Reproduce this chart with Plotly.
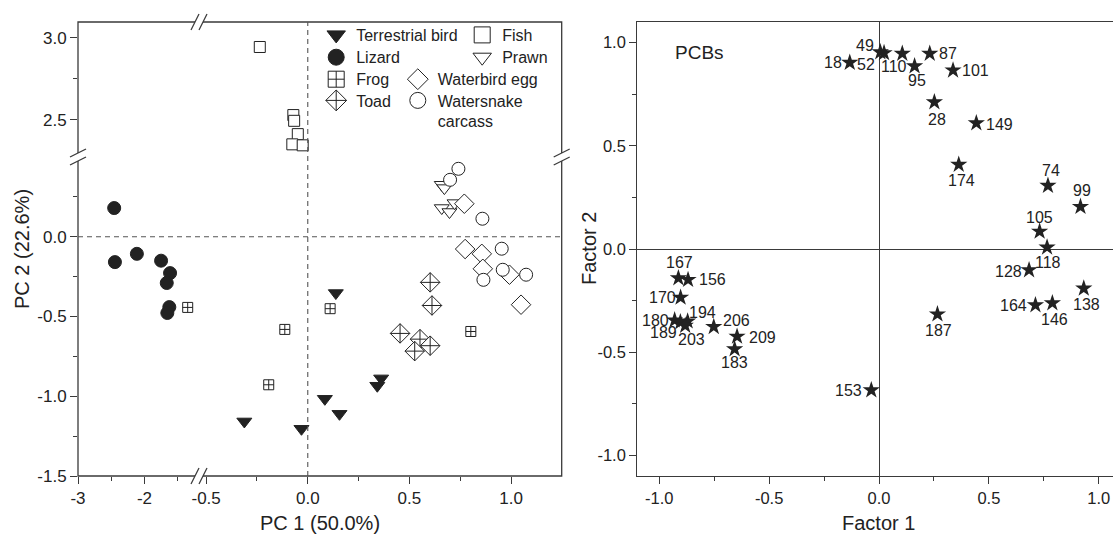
import plotly.graph_objects as go

# ---------------- Left panel: PCA scores ----------------
bird_x = [-0.312, -0.031, 0.138, 0.084, 0.156, 0.361, 0.342]
bird_y = [-1.158, -1.204, -0.353, -1.016, -1.110, -0.888, -0.934]
lizard_x = [-2.456, -2.445, -2.115, -1.751, -1.616, -1.666, -1.627, -1.657]
lizard_y = [0.180, -0.159, -0.107, -0.150, -0.228, -0.290, -0.441, -0.478]
frog_x = [-1.351, -0.113, -0.192, 0.110, 0.802]
frog_y = [-0.443, -0.581, -0.928, -0.451, -0.594]
toad_x = [0.602, 0.611, 0.454, 0.552, 0.602, 0.526]
toad_y = [-0.286, -0.431, -0.606, -0.642, -0.683, -0.717]
fish_x = [-0.236, -0.071, -0.067, -0.049, -0.076, -0.025]
fish_y = [2.943, 2.529, 2.494, 2.413, 2.351, 2.345]
prawn_x = [0.659, 0.672, 0.659, 0.697, 0.722]
prawn_y = [0.326, 0.305, 0.180, 0.155, 0.211]
egg_x = [0.770, 0.774, 0.856, 0.861, 0.992, 1.049]
egg_y = [0.207, -0.077, -0.107, -0.201, -0.238, -0.426]
snake_x = [0.741, 0.700, 0.859, 0.954, 0.864, 0.959, 1.074]
snake_y = [0.426, 0.357, 0.113, -0.075, -0.270, -0.207, -0.238]

# ---------------- Right panel: factor loadings ----------------
pcb_labels = ['18', '49', '52', '110', '95', '87', '101', '28', '149', '174',
              '74', '99', '105', '118', '128', '164', '146', '138', '187', '153',
              '167', '156', '170', '180', '189', '194', '203', '206', '209', '183']
factor1 = [-0.133, 0.006, 0.023, 0.106, 0.162, 0.231, 0.337, 0.252, 0.443, 0.363,
           0.769, 0.917, 0.731, 0.765, 0.683, 0.712, 0.789, 0.932, 0.266, -0.035,
           -0.913, -0.869, -0.903, -0.930, -0.904, -0.871, -0.882, -0.752, -0.646, -0.657]
factor2 = [0.903, 0.954, 0.950, 0.947, 0.886, 0.947, 0.866, 0.712, 0.610, 0.409,
           0.307, 0.205, 0.085, 0.008, -0.102, -0.272, -0.262, -0.191, -0.316, -0.684,
           -0.141, -0.149, -0.235, -0.345, -0.354, -0.350, -0.371, -0.377, -0.424, -0.485]

# label offsets from each star, in pixels (dx right, dy down) -- styling only
label_offsets = [(-17, 0), (-15, -7), (-18, 12), (-8, 13), (2, 14), (18, 0), (22, 0),
                 (3, 17), (23, 1), (3, 16), (3, -15), (2, -16), (0, -14), (1, 15),
                 (-21, 1), (-22, 0), (2, 16), (3, 16), (1, 16), (-23, 0), (1, -16),
                 (24, 0), (-18, 0), (-19, 0), (-17, 10), (15, -9), (6, 14), (23, -6),
                 (25, 1), (0, 13)]

# ---------------- Layout constants ----------------
W, H = 1113, 536
ML, MR, MT, MB = 78, 0, 22, 60
PW, PH = W - ML - MR, H - MT - MB

def px2x(p):
    return (p - ML) / PW

def px2y(p):
    return (H - MB - p) / PH

X_BREAK_PX, LEFT_RIGHT_PX, R_LEFT_PX = 199, 561.7, 637.3
Y_BREAK_PX = 157
X_BREAK = -1.181          # left segment upper limit
Y_BREAK = 0.5             # lower segment upper limit

xd1 = [0, px2x(X_BREAK_PX)]
xd2 = [px2x(X_BREAK_PX), px2x(LEFT_RIGHT_PX)]
xd3 = [px2x(R_LEFT_PX), 1]
yd1 = [0, px2y(Y_BREAK_PX)]
yd2 = [px2y(Y_BREAK_PX), 1]

FONT = 'Liberation Sans, Arial, sans-serif'
INK = '#222222'
AX = '#3a3a3a'

fig = go.Figure()

groups = [
    ('Terrestrial bird', bird_x, bird_y, 'triangle-down', INK, 13),
    ('Lizard', lizard_x, lizard_y, 'circle', INK, 13),
    ('Frog', frog_x, frog_y, 'square-cross', 'white', 10),
    ('Toad', toad_x, toad_y, 'diamond-cross', 'white', 15),
    ('Fish', fish_x, fish_y, 'square', 'white', 11),
    ('Prawn', prawn_x, prawn_y, 'triangle-down', 'white', 13),
    ('Waterbird egg', egg_x, egg_y, 'diamond', 'white', 15),
    ('Watersnake<br>carcass', snake_x, snake_y, 'circle', 'white', 13),
]
# legend symbol centres in pixels (layout only)
legend_slots = [(336.7, 35), (336.7, 57.3), (336.7, 79.3), (336.7, 100.5),
                (482.7, 35), (482.7, 57.3), (418.3, 79.3), (418.3, 100.5)]

legend_layouts = {}
for i, ((name, xs, ys, sym, fill, size), (mx, my)) in enumerate(zip(groups, legend_slots)):
    buckets = {}
    for xv, yv in zip(xs, ys):
        xa = 'x' if xv < X_BREAK else 'x2'
        ya = 'y2' if yv > Y_BREAK else 'y'
        buckets.setdefault((xa, ya), ([], []))
        buckets[(xa, ya)][0].append(xv)
        buckets[(xa, ya)][1].append(yv)
    for (xa, ya), (bx, by) in buckets.items():
        fig.add_trace(go.Scatter(
            x=bx, y=by, mode='markers', xaxis=xa, yaxis=ya, name=name,
            showlegend=False, hoverinfo='skip',
            marker=dict(symbol=sym, size=size, color=fill,
                        line=dict(color=INK, width=1))))
    lname = 'legend' if i == 0 else 'legend%d' % (i + 1)
    fig.add_trace(go.Scatter(
        x=[None], y=[None], mode='markers', xaxis='x2', yaxis='y', name=name,
        legend=lname, showlegend=True,
        marker=dict(symbol=sym, size=16, color=fill, line=dict(color=INK, width=1))))
    legend_layouts[lname] = dict(
        x=px2x(mx - 20.5), y=px2y(my - 17), xanchor='left', yanchor='top',
        bgcolor='rgba(0,0,0,0)', font=dict(family=FONT, size=16, color=INK),
        itemclick=False, itemdoubleclick=False, valign='top')

fig.add_trace(go.Scatter(
    x=factor1, y=factor2, mode='markers', xaxis='x3', yaxis='y3',
    showlegend=False, hoverinfo='skip',
    marker=dict(symbol='star', size=13, color=INK, line=dict(width=0))))

tickfont_l = dict(family=FONT, size=17, color=INK)
tickfont_r = dict(family=FONT, size=16.5, color=INK)
common = dict(showgrid=False, zeroline=False, showline=False, ticks='outside',
              ticklen=7, tickwidth=1.2, tickcolor=AX, fixedrange=True)

fig.update_layout(
    width=W, height=H, margin=dict(l=ML, r=MR, t=MT, b=MB),
    paper_bgcolor='white', plot_bgcolor='white',
    font=dict(family=FONT, color=INK),
    xaxis=dict(domain=xd1, range=[-3, X_BREAK], anchor='y',
               tickvals=[-3, -2], ticktext=['-3', '-2'], tickfont=tickfont_l,
               minor=dict(tickvals=[-2.5, -1.5], ticklen=4, ticks='outside', tickcolor=AX),
               **common),
    xaxis2=dict(domain=xd2, range=[-0.535, 1.249], anchor='y',
                tickvals=[-0.5, 0, 0.5, 1.0], ticktext=['-0.5', '0.0', '0.5', '1.0'],
                tickfont=tickfont_l,
                minor=dict(tickvals=[-0.25, 0.25, 0.75], ticklen=4, ticks='outside', tickcolor=AX),
                **common),
    yaxis=dict(domain=yd1, range=[-1.5, Y_BREAK], anchor='x',
               tickvals=[-1.5, -1.0, -0.5, 0.0], ticktext=['-1.5', '-1.0', '-0.5', '0.0'],
               tickfont=tickfont_l,
               minor=dict(tickvals=[-1.25, -0.75, -0.25, 0.25], ticklen=4, ticks='outside', tickcolor=AX),
               **common),
    yaxis2=dict(domain=yd2, range=[2.274, 3.095], anchor='x',
                tickvals=[2.5, 3.0], ticktext=['2.5', '3.0'], tickfont=tickfont_l,
                minor=dict(tickvals=[2.75], ticklen=4, ticks='outside', tickcolor=AX),
                **common),
    xaxis3=dict(domain=xd3, range=[-1.1, 1.065], anchor='y3',
                tickvals=[-1, -0.5, 0, 0.5, 1], ticktext=['-1.0', '-0.5', '0.0', '0.5', '1.0'],
                tickfont=tickfont_r,
                minor=dict(tickvals=[-0.75, -0.25, 0.25, 0.75], ticklen=4, ticks='outside', tickcolor=AX),
                showgrid=False, zeroline=True, zerolinecolor=AX, zerolinewidth=1.2,
                showline=True, linecolor=AX, linewidth=1.3, mirror=True,
                ticks='outside', ticklen=7, tickwidth=1.2, tickcolor=AX, fixedrange=True),
    yaxis3=dict(domain=[0, 1], range=[-1.1, 1.1], anchor='x3',
                tickvals=[-1, -0.5, 0, 0.5, 1], ticktext=['-1.0', '-0.5', '0.0', '0.5', '1.0'],
                tickfont=tickfont_r,
                minor=dict(tickvals=[-0.75, -0.25, 0.25, 0.75], ticklen=4, ticks='outside', tickcolor=AX),
                showgrid=False, zeroline=True, zerolinecolor=AX, zerolinewidth=1.2,
                showline=True, linecolor=AX, linewidth=1.3, mirror=False,
                ticks='outside', ticklen=7, tickwidth=1.2, tickcolor=AX, fixedrange=True),
    # mirror tick axes (top / right of the left panel, top of right panel)
    xaxis4=dict(overlaying='x', anchor='y2', side='top', range=[-3, X_BREAK],
                tickvals=[-3, -2, -2.5, -1.5], showticklabels=False, showgrid=False,
                zeroline=False, ticks='inside', ticklen=3, tickcolor=AX),
    xaxis5=dict(overlaying='x2', anchor='y2', side='top', range=[-0.535, 1.249],
                tickvals=[-0.5, -0.25, 0, 0.25, 0.5, 0.75, 1.0], showticklabels=False,
                showgrid=False, zeroline=False, ticks='inside', ticklen=3, tickcolor=AX),
    yaxis4=dict(overlaying='y', anchor='x2', side='right', range=[-1.5, Y_BREAK],
                tickvals=[-1.5, -1.25, -1, -0.75, -0.5, -0.25, 0, 0.25],
                showticklabels=False, showgrid=False, zeroline=False,
                ticks='outside', ticklen=3, tickcolor=AX),
    yaxis5=dict(overlaying='y2', anchor='x2', side='right', range=[2.274, 3.095],
                tickvals=[2.5, 2.75, 3.0], showticklabels=False, showgrid=False,
                zeroline=False, ticks='outside', ticklen=3, tickcolor=AX),
    xaxis6=dict(overlaying='x3', anchor='y3', side='top', range=[-1.1, 1.065],
                tickvals=[-1, -0.75, -0.5, -0.25, 0, 0.25, 0.5, 0.75, 1.0],
                showticklabels=False, showgrid=False, zeroline=False,
                ticks='inside', ticklen=3, tickcolor=AX),
    **legend_layouts,
)

shapes = []
# left panel frame
shapes.append(dict(type='rect', xref='paper', yref='paper', x0=0, x1=xd2[1], y0=0, y1=1,
                   line=dict(color=AX, width=1.3), layer='below'))
# dashed zero lines on left panel
shapes.append(dict(type='line', xref='x2', yref='paper', x0=0, x1=0, y0=0, y1=1,
                   line=dict(color='#555555', width=1.1, dash='5px,4px')))
shapes.append(dict(type='line', xref='paper', yref='y', x0=0, x1=xd2[1], y0=0, y1=0,
                   line=dict(color='#555555', width=1.1, dash='5px,4px')))

# axis-break marks
def xbreak(cx_px, cy_px):
    ax, ay = px2x(cx_px), px2y(cy_px)
    out = [dict(type='line', xref='paper', yref='paper', xsizemode='pixel', ysizemode='pixel',
                xanchor=ax, yanchor=ay, x0=-4, x1=4, y0=0, y1=0,
                line=dict(color='white', width=3))]
    for d in (-4, 4):
        out.append(dict(type='line', xref='paper', yref='paper', xsizemode='pixel',
                        ysizemode='pixel', xanchor=ax, yanchor=ay,
                        x0=d - 4, x1=d + 4, y0=-8, y1=8, line=dict(color=AX, width=1.3)))
    return out

def ybreak(cx_px, cy_px):
    ax, ay = px2x(cx_px), px2y(cy_px)
    out = [dict(type='line', xref='paper', yref='paper', xsizemode='pixel', ysizemode='pixel',
                xanchor=ax, yanchor=ay, x0=0, x1=0, y0=-4, y1=4,
                line=dict(color='white', width=3))]
    for d in (-4, 4):
        out.append(dict(type='line', xref='paper', yref='paper', xsizemode='pixel',
                        ysizemode='pixel', xanchor=ax, yanchor=ay,
                        x0=-8, x1=8, y0=d - 4, y1=d + 4, line=dict(color=AX, width=1.3)))
    return out

shapes += xbreak(X_BREAK_PX, H - MB)
shapes += xbreak(X_BREAK_PX, MT)
shapes += ybreak(ML, Y_BREAK_PX)
shapes += ybreak(LEFT_RIGHT_PX, Y_BREAK_PX)
fig.update_layout(shapes=shapes)

ann = [
    dict(text='PC 2 (22.6%)', x=px2x(22), y=px2y(249), textangle=-90, size=20),
    dict(text='PC 1 (50.0%)', x=px2x(320), y=px2y(523), size=20),
    dict(text='Factor 2', x=px2x(589), y=px2y(249), textangle=-90, size=20),
    dict(text='Factor 1', x=px2x(878.5), y=px2y(523), size=20),
    dict(text='PCBs', x=px2x(699.5), y=px2y(53), size=19),
]
annotations = []
for a in ann:
    size = a.pop('size')
    a.update(xref='paper', yref='paper', showarrow=False, xanchor='center', yanchor='middle',
             font=dict(family=FONT, color=INK, size=size))
    annotations.append(a)

# congener labels anchored to each star through the data axes
for lab, fx, fy, (dx, dy) in zip(pcb_labels, factor1, factor2, label_offsets):
    annotations.append(dict(text=lab, x=fx, y=fy, xref='x3', yref='y3', showarrow=False,
                            xanchor='center', yanchor='middle', xshift=dx, yshift=-dy,
                            font=dict(family=FONT, color=INK, size=16)))
fig.update_layout(annotations=annotations)

fig.write_html('out.html')
